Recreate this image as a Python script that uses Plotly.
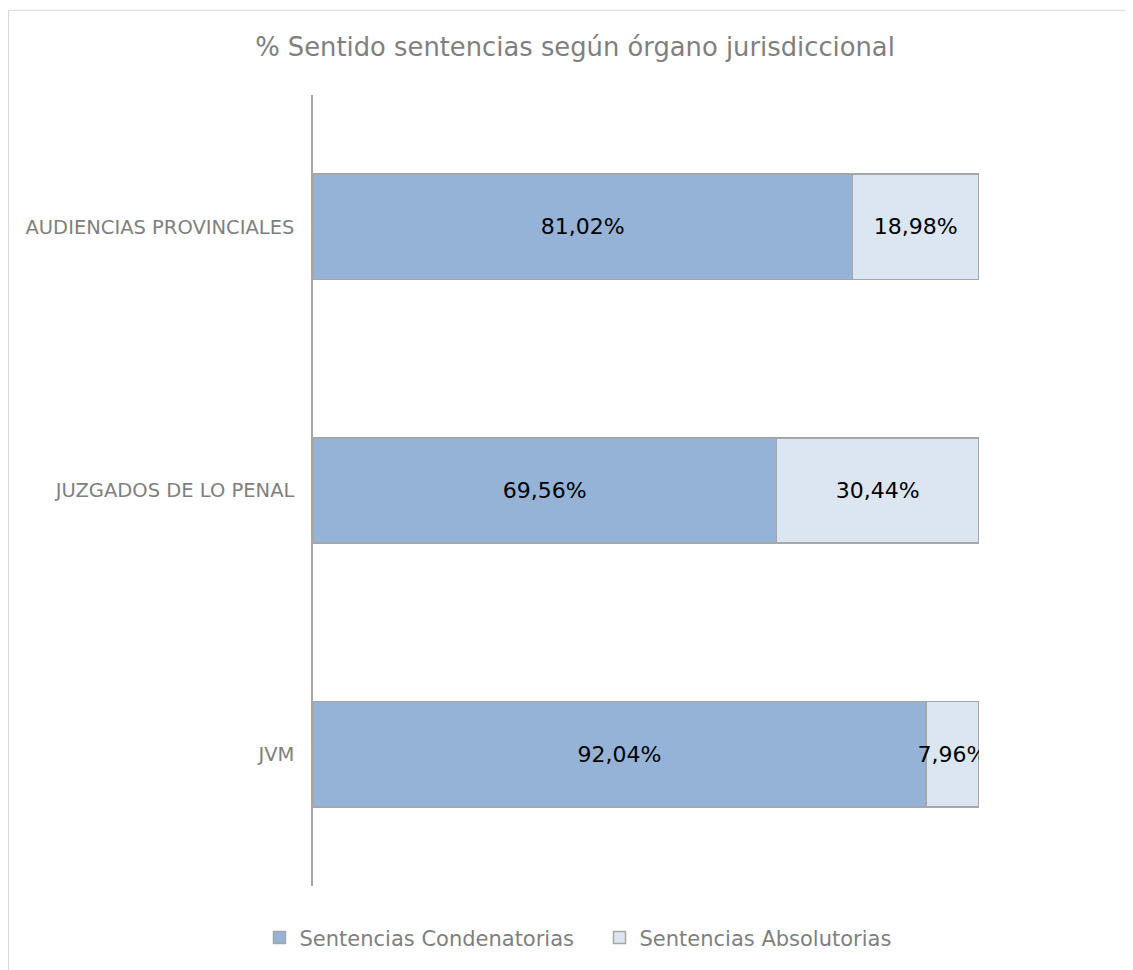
import plotly.graph_objects as go

categories = ["AUDIENCIAS PROVINCIALES", "JUZGADOS DE LO PENAL", "JVM"]
condenatorias = [81.02, 69.56, 92.04]
absolutorias = [18.98, 30.44, 7.96]
series_names = ["Sentencias Condenatorias", "Sentencias Absolutorias"]
title_text = "% Sentido sentencias según órgano jurisdiccional"

def fmt(v):
    return f"{v:.2f}".replace(".", ",") + "%"

FONT = "DejaVu Sans"
W, H = 1125, 962
L, T, PW, PH = 305, 87, 666, 793

fig = go.Figure()
for name, vals, color in [(series_names[0], condenatorias, "#95B3D7"),
                          (series_names[1], absolutorias, "#DCE6F2")]:
    fig.add_trace(go.Bar(
        y=categories, x=vals, name=name, orientation="h",
        marker=dict(color=color, line=dict(color="#A6A6A6", width=1.5)),
        text=[fmt(v) for v in vals], textposition="inside", textangle=0,
        insidetextanchor="middle", constraintext="none",
        textfont=dict(family=FONT, size=22, color="#000000"),
        width=0.4,
    ))

fig.update_layout(
    barmode="stack",
    width=W, height=H,
    margin=dict(l=L, r=W - L - PW, t=T, b=H - T - PH),
    paper_bgcolor="white", plot_bgcolor="white",
    title=dict(text=title_text, x=567 / W, xanchor="center", y=1 - 39 / H, yanchor="middle",
               font=dict(family=FONT, size=25.8, color="#7F7F7F")),
    xaxis=dict(range=[0, 100], visible=False),
    yaxis=dict(autorange="reversed", showline=True, linecolor="#A6A6A6", linewidth=1.5,
               ticks="", ticklabelstandoff=13,
               tickfont=dict(family=FONT, size=19.5, color="#7F7F7F")),
    legend=dict(orientation="h", x=(259.5 - 313) / PW, xanchor="left", y=-52 / PH, yanchor="middle",
                font=dict(family=FONT, size=21, color="#7F7F7F"), traceorder="normal",
                itemwidth=30, entrywidth=295),
    showlegend=True,
)
fig.add_shape(type="rect", xref="paper", yref="paper",
              x0=(0.5 - L) / PW, x1=(W + 10 - L) / PW,
              y0=(T + PH - (H + 10)) / PH, y1=(T + PH - 2) / PH,
              line=dict(color="#D9D9D9", width=1), layer="below")
fig.write_html("out.html")
